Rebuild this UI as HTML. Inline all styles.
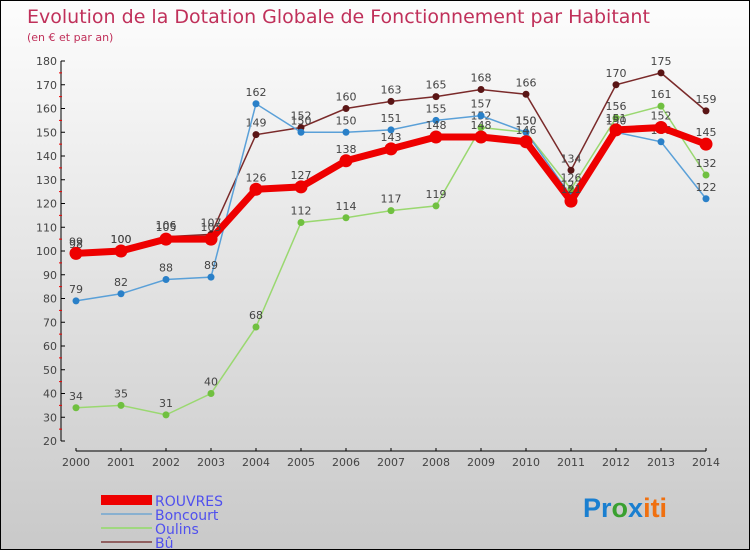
<!DOCTYPE html>
<html><head><meta charset="utf-8"><style>
body{margin:0}
#c{width:750px;height:550px;position:relative;overflow:hidden;border:1px solid #000;box-sizing:border-box;background:linear-gradient(#fdfdfd,#c9c9c9);font-family:"DejaVu Sans","Liberation Sans",sans-serif}
</style></head><body>
<div id="c">
<svg id="s" width="750" height="550" style="position:absolute;left:0;top:0">
<text x="26" y="22" font-size="19" fill="#c0305a">Evolution de la Dotation Globale de Fonctionnement par Habitant</text>
<text x="26" y="40" font-size="11" fill="#c0305a">(en € et par an)</text>
<g id="axes"></g><g id="series"></g><g id="legend"></g>
<text x="582" y="516" font-size="27" font-family="Liberation Sans,sans-serif" font-weight="bold"><tspan fill="#1a7fd0">Pr</tspan><tspan fill="#3aa030">o</tspan><tspan fill="#1a7fd0">x</tspan><tspan fill="#f07010">iti</tspan></text>
</svg></div>
<script>
const years=[2000,2001,2002,2003,2004,2005,2006,2007,2008,2009,2010,2011,2012,2013,2014];
const yTicks=[20,30,40,50,60,70,80,90,100,110,120,130,140,150,160,170,180];
const rouvres=[99,100,105,105,126,127,138,143,148,148,146,121,151,152,145];
const boncourt=[79,82,88,89,162,150,150,151,155,157,150,123,150,146,122];
const oulins=[34,35,31,40,68,112,114,117,119,152,150,126,156,161,132];
const bu=[98,100,106,107,149,152,160,163,165,168,166,134,170,175,159];
const NS='http://www.w3.org/2000/svg';
const xs=i=>75+i*45;
const ys=v=>440-(v-20)*380/160;
function mk(t,a,p){const e=document.createElementNS(NS,t);for(const k in a)e.setAttribute(k,a[k]);p.appendChild(e);return e;}
const ax=document.getElementById('axes');
let l=mk('line',{x1:60,y1:60,x2:60,y2:440,stroke:'#000'},ax);

l=mk('line',{x1:75,y1:450,x2:705,y2:450,stroke:'#000'},ax);

yTicks.forEach(v=>{mk('line',{x1:60,y1:ys(v),x2:64,y2:ys(v),stroke:'#000'},ax);
if(v<180)mk('line',{x1:58,y1:ys(v+5),x2:61,y2:ys(v+5),stroke:'#e00'},ax);
const t=mk('text',{x:56,y:ys(v)+4,'font-size':11,'text-anchor':'end',fill:'#444'},ax);t.textContent=v;
});
years.forEach((y,i)=>{mk('line',{x1:xs(i),y1:447,x2:xs(i),y2:450,stroke:'#000'},ax);
const t=mk('text',{x:xs(i),y:465,'font-size':11,'text-anchor':'middle',fill:'#444'},ax);t.textContent=y;
});
const ser=[['bu',bu,'#7a2a2a','#5a1515',1.5,3.5],['oulins',oulins,'#9ad870','#70c040',1.5,3.5],['boncourt',boncourt,'#5aa0d8','#2a80c8',1.5,3.5],['rouvres',rouvres,'#ee0000','#ee0000',7,6.5]];
const sg=document.getElementById('series');
ser.forEach(([n,d,c,dc,w,r])=>{const g=mk('g',{},sg);
const p=mk('polyline',{points:d.map((v,i)=>xs(i)+','+ys(v)).join(' '),fill:'none',stroke:c,'stroke-width':w},g);

d.forEach((v,i)=>{const ci=mk('circle',{cx:xs(i),cy:ys(v),r:r,fill:dc},g);

const t=mk('text',{x:xs(i),y:ys(v)-8,'font-size':11,'text-anchor':'middle',fill:'#444'},g);t.textContent=v;
});});
const lg=document.getElementById('legend');
[['ROUVRES','#ee0000',10],['Boncourt','#88b0d0',2],['Oulins','#a0d880',2],['Bû','#906060',2]].forEach(([n,c,w],i)=>{const y=520-14*(3-i)-10+0;const yy=494+i*14;
const g=mk('g',{},lg);
mk('line',{x1:100,y1:yy+5,x2:151,y2:yy+5,stroke:c,'stroke-width':w},g);
const t=mk('text',{x:154,y:yy+11,'font-size':14,fill:'#5050ee'},g);t.textContent=n;});
</script></body></html>
